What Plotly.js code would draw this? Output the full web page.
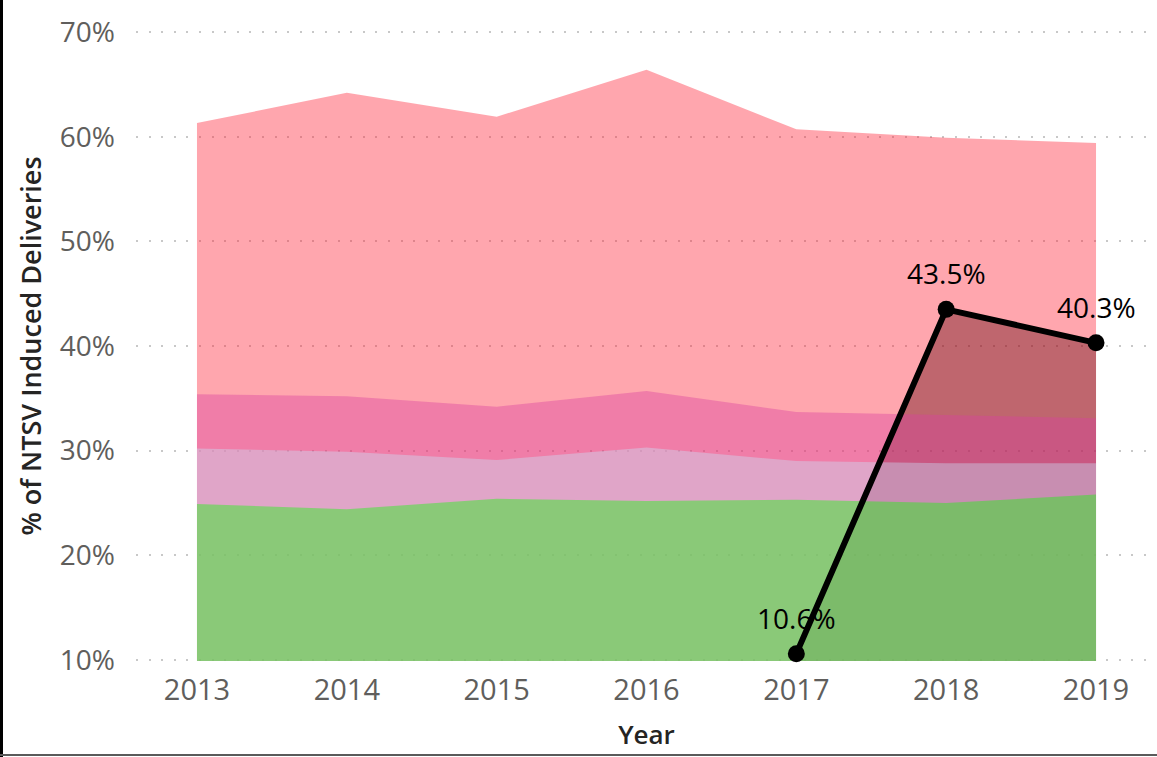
<!DOCTYPE html>
<html>
<head>
<meta charset="utf-8">
<script src="https://cdn.plot.ly/plotly-3.0.1.min.js"></script>
<style>
  html, body { margin: 0; padding: 0; background: #fff; }
  #wrap { position: relative; width: 1157px; height: 757px; overflow: hidden; }
  #chart { width: 1157px; height: 757px; }
  #bl { position: absolute; left: 0; top: 0; width: 3px; height: 757px; background: #000; }
  #bb { position: absolute; left: 0; bottom: 1px; width: 1157px; height: 2px; background: #5a5a5a; }
</style>
</head>
<body>
<div id="wrap">
  <div id="chart"></div>
  <div id="bl"></div>
  <div id="bb"></div>
</div>
<script>
// ---- data (percent of NTSV induced deliveries) ----
const years = [2013, 2014, 2015, 2016, 2017, 2018, 2019];
const seriesRed    = [61.3, 64.2, 61.9, 66.4, 60.7, 59.9, 59.4];
const seriesPink   = [35.4, 35.2, 34.2, 35.7, 33.7, 33.4, 33.1];
const seriesPurple = [30.2, 29.9, 29.1, 30.3, 29.0, 28.8, 28.8];
const seriesGreen  = [24.9, 24.4, 25.4, 25.2, 25.3, 25.0, 25.8];
const lineYears  = [2017, 2018, 2019];
const lineValues = [10.6, 43.5, 40.3];
const yTickVals = [10, 20, 30, 40, 50, 60, 70];
const yTickText = yTickVals.map(v => v + '%');

const FONT = "'Segoe UI', 'Open Sans', sans-serif";

function area(y, color) {
  return {
    x: years, y: y, type: 'scatter', mode: 'lines',
    line: { width: 0, shape: 'linear' },
    fill: 'tozeroy', fillcolor: color,
    hoverinfo: 'skip', showlegend: false
  };
}

const traces = [
  {
    x: lineYears, y: lineValues, type: 'scatter', mode: 'lines',
    line: { width: 0 }, fill: 'tozeroy', fillcolor: 'rgba(0,0,0,0.42)',
    hoverinfo: 'skip', showlegend: false
  },
  area(seriesRed,    'rgba(255,33,53,0.4)'),
  area(seriesPink,   'rgba(218,66,159,0.4)'),
  area(seriesPurple, 'rgba(200,226,248,0.4)'),
  area(seriesGreen,  'rgba(9,255,0,0.4)'),
  {
    x: lineYears, y: lineValues, type: 'scatter', mode: 'lines+markers',
    line: { color: '#000', width: 6 },
    marker: { color: '#000', size: 17 },
    cliponaxis: false,
    hoverinfo: 'skip', showlegend: false
  }
];

const annotations = lineYears.map((yr, i) => ({
  x: yr, y: lineValues[i], xref: 'x', yref: 'y',
  text: lineValues[i].toFixed(1) + '%',
  showarrow: false, xanchor: 'center', yanchor: 'middle', yshift: 36,
  font: { family: FONT, size: 28, color: '#000' }
}));

const layout = {
  width: 1157, height: 757,
  margin: { l: 136, r: 0, t: 31, b: 96 },
  paper_bgcolor: '#fff', plot_bgcolor: '#fff',
  font: { family: FONT },
  showlegend: false,
  annotations: annotations,
  xaxis: {
    range: [2012.593, 2019.407],
    tickvals: years,
    ticktext: years.map(String),
    showgrid: false, zeroline: false, showline: false,
    ticks: '',
    tickfont: { family: FONT, size: 29, color: '#605e5c' },
    ticklabelstandoff: 9,
    title: { text: 'Year', font: { family: FONT, size: 26, color: '#252423', weight: 600 }, standoff: 18 },
    automargin: false
  },
  yaxis: {
    range: [9.9, 70.1],
    tickvals: yTickVals,
    ticktext: yTickText,
    showgrid: true, gridcolor: '#c8c8c8', gridwidth: 2, griddash: '2px,10.6px',
    zeroline: false, showline: false,
    ticks: '',
    tickfont: { family: FONT, size: 28, color: '#605e5c' },
    ticklabelstandoff: 20,
    title: { text: '% of NTSV Induced Deliveries', font: { family: FONT, size: 27, color: '#252423', weight: 600 }, standoff: 10 },
    automargin: false
  }
};

Plotly.newPlot('chart', traces, layout, { displayModeBar: false, staticPlot: true });
</script>
</body>
</html>
